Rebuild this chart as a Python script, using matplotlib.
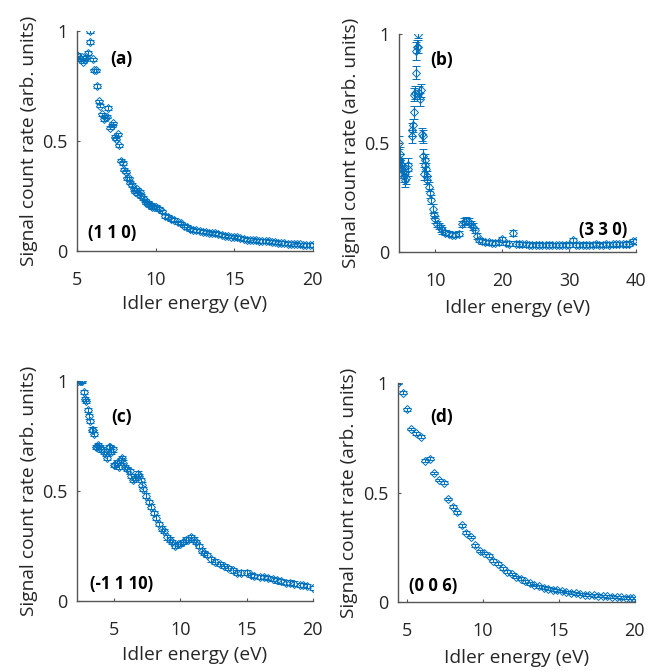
#!/usr/bin/env python3
import matplotlib
matplotlib.use("Agg")
import matplotlib.pyplot as plt

BLUE = "#0072BD"
TXT = "#262626"

# (a) (1 1 0)
x_a = [5.0, 5.1, 5.2, 5.3, 5.4, 5.5, 5.6, 5.7, 5.8, 5.85, 6.0, 6.1, 6.2, 6.3, 6.4, 6.45,
       6.6, 6.7, 6.8, 6.9, 7.0, 7.1, 7.2, 7.3, 7.4, 7.5, 7.6, 7.7, 7.8, 7.9, 8.0, 8.1,
       8.2, 8.3, 8.4, 8.5, 8.6, 8.7, 8.8, 8.9, 9.0, 9.1, 9.2, 9.3, 9.4, 9.5, 9.6, 9.7,
       9.8, 9.9, 10.0, 10.2, 10.4, 10.6, 10.8, 11.0, 11.2, 11.4, 11.6, 11.8, 12.0, 12.2,
       12.4, 12.6, 12.8, 13.0, 13.2, 13.4, 13.6, 13.8, 14.0, 14.2, 14.4, 14.6, 14.8, 15.0,
       15.2, 15.4, 15.6, 15.8, 16.0, 16.2, 16.4, 16.6, 16.8, 17.0, 17.2, 17.4, 17.6, 17.8,
       18.0, 18.2, 18.4, 18.6, 18.8, 19.0, 19.2, 19.4, 19.6, 19.8, 20.0]
y_a = [0.89, 0.88, 0.87, 0.88, 0.86, 0.87, 0.88, 0.90, 0.95, 1.0, 0.87, 0.82, 0.82, 0.75, 0.68, 0.66,
       0.62, 0.60, 0.61, 0.61, 0.65, 0.56, 0.57, 0.58, 0.52, 0.51, 0.53, 0.48, 0.41, 0.40, 0.37, 0.36,
       0.33, 0.33, 0.31, 0.30, 0.28, 0.27, 0.28, 0.26, 0.27, 0.25, 0.24, 0.23, 0.22, 0.22, 0.21, 0.21,
       0.20, 0.20, 0.20, 0.19, 0.18, 0.16, 0.155, 0.145, 0.14, 0.13, 0.125, 0.115, 0.11, 0.10,
       0.095, 0.093, 0.09, 0.088, 0.085, 0.083, 0.08, 0.082, 0.078, 0.072, 0.07, 0.066, 0.065, 0.065,
       0.062, 0.058, 0.055, 0.052, 0.05, 0.05, 0.048, 0.046, 0.045, 0.045, 0.043, 0.04, 0.04, 0.038,
       0.036, 0.035, 0.033, 0.032, 0.031, 0.03, 0.03, 0.028, 0.028, 0.027, 0.027]
err_a = 0.008

# (b) (3 3 0)
x_b = [4.6, 4.7, 4.8, 4.9, 5.0, 5.1, 5.2, 5.3, 5.5, 5.7, 5.9, 6.0, 6.5, 6.6, 6.7, 6.8,
       6.9, 7.0, 7.1, 7.2, 7.3, 7.4, 7.5, 7.6, 7.8, 7.9, 8.0, 8.1, 8.2, 8.3, 8.4, 8.5,
       8.6, 8.7, 8.8, 9.0, 9.2, 9.4, 9.6, 9.8, 10.0, 10.2, 10.5, 10.8, 11.0, 11.5, 12.0, 12.5,
       13.0, 13.5, 14.0, 14.3, 14.6, 15.0, 15.3, 15.6, 16.0, 16.3, 16.6, 17.0, 17.5, 18.0,
       18.5, 19.0, 19.5, 20.0, 20.5, 21.0, 21.6, 22.0, 22.5, 23.0, 23.5, 24.0, 24.5, 25.0,
       25.5, 26.0, 26.5, 27.0, 27.5, 28.0, 28.5, 29.0, 29.5, 30.0, 30.6, 31.0, 31.5, 32.0,
       32.5, 33.0, 33.5, 34.0, 34.5, 35.0, 35.5, 36.0, 36.5, 37.0, 37.5, 38.0, 38.5, 39.0,
       39.5, 40.0]
y_b = [0.50, 0.45, 0.42, 0.40, 0.38, 0.40, 0.37, 0.35, 0.33, 0.34, 0.38, 0.40, 0.53, 0.56, 0.58, 0.64,
       0.72, 0.73, 0.82, 0.92, 0.94, 1.0, 0.94, 0.73, 0.70, 0.74, 0.54, 0.53, 0.44, 0.36, 0.40, 0.42,
       0.38, 0.35, 0.33, 0.30, 0.27, 0.24, 0.20, 0.17, 0.15, 0.13, 0.12, 0.11, 0.10, 0.09, 0.085, 0.08,
       0.08, 0.085, 0.13, 0.14, 0.145, 0.14, 0.13, 0.117, 0.10, 0.075, 0.055, 0.05, 0.048, 0.045,
       0.044, 0.043, 0.045, 0.06, 0.042, 0.04, 0.088, 0.04, 0.038, 0.036, 0.036, 0.035, 0.035, 0.034,
       0.035, 0.034, 0.033, 0.035, 0.034, 0.033, 0.034, 0.033, 0.035, 0.034, 0.055, 0.033, 0.034, 0.035,
       0.033, 0.034, 0.035, 0.036, 0.034, 0.035, 0.036, 0.035, 0.037, 0.036, 0.038, 0.037, 0.036, 0.04,
       0.05, 0.05]
err_b = [0.03, 0.03, 0.03, 0.03, 0.03, 0.03, 0.03, 0.03, 0.03, 0.03, 0.03, 0.03, 0.03, 0.03, 0.03, 0.03,
         0.03, 0.03, 0.03, 0.04, 0.03, 0.02, 0.03, 0.03, 0.03, 0.03, 0.03, 0.03, 0.03, 0.03, 0.03, 0.03,
         0.03, 0.02, 0.02, 0.02, 0.02, 0.02, 0.02, 0.015, 0.015, 0.015, 0.015, 0.015, 0.015, 0.012, 0.012, 0.012,
         0.012, 0.012, 0.015, 0.015, 0.015, 0.015, 0.015, 0.015, 0.012, 0.012, 0.01, 0.01, 0.01, 0.01,
         0.01, 0.01, 0.01, 0.012, 0.01, 0.01, 0.015, 0.01, 0.01, 0.01, 0.01, 0.01, 0.01, 0.01,
         0.01, 0.01, 0.01, 0.01, 0.01, 0.01, 0.01, 0.01, 0.01, 0.01, 0.01, 0.01, 0.01, 0.01,
         0.01, 0.01, 0.01, 0.01, 0.01, 0.01, 0.01, 0.01, 0.01, 0.01, 0.01, 0.01, 0.01, 0.01,
         0.012, 0.012]

# (c) (-1 1 10)
x_c = [2.3, 2.4, 2.5, 2.6, 2.7, 2.8, 2.9, 3.0, 3.1, 3.2, 3.3, 3.4, 3.5, 3.6, 3.7, 3.8,
       3.9, 4.0, 4.2, 4.4, 4.5, 4.6, 4.7, 4.8, 4.9, 5.0, 5.1, 5.2, 5.4, 5.5, 5.6, 5.7,
       5.8, 6.0, 6.2, 6.3, 6.4, 6.6, 6.8, 6.9, 7.0, 7.1, 7.2, 7.4, 7.6, 7.8, 8.0, 8.2,
       8.4, 8.6, 8.8, 9.0, 9.2, 9.4, 9.6, 9.8, 10.0, 10.2, 10.4, 10.6, 10.8, 11.0, 11.2, 11.4,
       11.6, 11.8, 12.0, 12.3, 12.6, 13.0, 13.3, 13.6, 14.0, 14.3, 14.6, 15.0, 15.3, 15.6,
       16.0, 16.3, 16.6, 17.0, 17.3, 17.6, 18.0, 18.3, 18.6, 19.0, 19.3, 19.6, 20.0]
y_c = [1.0, 1.0, 1.0, 1.0, 0.95, 0.92, 0.91, 0.87, 0.84, 0.82, 0.78, 0.78, 0.76, 0.70, 0.70, 0.71,
       0.70, 0.69, 0.68, 0.67, 0.65, 0.70, 0.70, 0.68, 0.69, 0.62, 0.62, 0.63, 0.61, 0.64, 0.65, 0.63,
       0.61, 0.60, 0.59, 0.57, 0.55, 0.56, 0.58, 0.57, 0.55, 0.53, 0.51, 0.48, 0.45, 0.43, 0.40, 0.38,
       0.35, 0.33, 0.32, 0.29, 0.28, 0.27, 0.25, 0.26, 0.26, 0.27, 0.28, 0.28, 0.29, 0.28, 0.27, 0.25,
       0.23, 0.22, 0.21, 0.19, 0.18, 0.17, 0.16, 0.15, 0.14, 0.13, 0.13, 0.13, 0.12, 0.115,
       0.11, 0.11, 0.105, 0.10, 0.095, 0.09, 0.085, 0.085, 0.08, 0.075, 0.075, 0.07, 0.06]
err_c = 0.01

# (d) (0 0 6)
x_d = [4.45, 4.74, 5.0, 5.29, 5.62, 5.9, 6.2, 6.5, 6.78, 7.09, 7.42, 7.73, 8.03, 8.33,
       8.63, 8.91, 9.22, 9.51, 9.81, 10.1, 10.4, 10.7, 11.0, 11.3, 11.6, 11.9, 12.2, 12.5,
       12.8, 13.1, 13.4, 13.7, 14.0, 14.3, 14.6, 14.9, 15.2, 15.5, 15.8, 16.1, 16.4, 16.7,
       17.0, 17.3, 17.6, 17.9, 18.2, 18.5, 18.8, 19.1, 19.4, 19.7, 19.85]
y_d = [1.0, 0.956, 0.88, 0.79, 0.77, 0.755, 0.645, 0.655, 0.59, 0.557, 0.545, 0.47, 0.435, 0.41,
       0.35, 0.317, 0.296, 0.258, 0.232, 0.223, 0.211, 0.188, 0.175, 0.153, 0.138, 0.127, 0.114, 0.106,
       0.094, 0.085, 0.077, 0.071, 0.065, 0.061, 0.056, 0.053, 0.05, 0.046, 0.042, 0.039, 0.036, 0.033,
       0.032, 0.030, 0.029, 0.027, 0.026, 0.024, 0.023, 0.021, 0.020, 0.018, 0.017]
err_d = 0.006

panels = [
    # x, y, err, xlim, xticks, tag, tag pos, hkl, hkl pos, axes rect, xlabel pad
    (x_a, y_a, err_a, (5, 20), [5, 10, 15, 20], "(a)", (0.19, 0.87), "(1 1 0)", (0.15, 0.08),
     [0.116, 0.626, 0.355, 0.328], 4.5),
    (x_b, y_b, err_b, (4.6, 40), [10, 20, 30, 40], "(b)", (0.18, 0.877), "(3 3 0)", (0.86, 0.10),
     [0.601, 0.624, 0.357, 0.326], 6),
    (x_c, y_c, err_c, (2.2, 20), [5, 10, 15, 20], "(c)", (0.19, 0.836), "(-1 1 10)", (0.19, 0.077),
     [0.116, 0.104, 0.355, 0.328], 4.5),
    (x_d, y_d, err_d, (4.4, 20), [5, 10, 15, 20], "(d)", (0.185, 0.845), "(0 0 6)", (0.15, 0.073),
     [0.599, 0.103, 0.357, 0.326], 6.5),
]

plt.rcParams["font.family"] = ["Open Sans", "DejaVu Sans"]

fig = plt.figure(figsize=(6.64, 6.71), dpi=100)

for x, y, err, xlim, xticks, tag, tag_pos, hkl, hkl_pos, rect, xpad in panels:
    ax = fig.add_axes(rect)
    ax.errorbar(x, y, yerr=err, fmt="D", color=BLUE, markersize=4.3,
                markerfacecolor="none", markeredgewidth=0.7, elinewidth=0.8,
                capsize=2.8, capthick=0.8)
    ax.set_xlim(*xlim)
    ax.set_ylim(0, 1)
    ax.set_xticks(xticks)
    ax.set_yticks([0, 0.5, 1])
    ax.set_yticklabels(["0", "0.5", "1"])
    for side in ["top", "right"]:
        ax.spines[side].set_visible(False)
    for side in ["left", "bottom"]:
        ax.spines[side].set_color("#555555")
        ax.spines[side].set_linewidth(1.0)
    ax.tick_params(direction="in", length=2, width=0.8, color="#555555",
                   labelsize=13, labelcolor=TXT)
    ax.tick_params(axis="x", pad=14.5)
    ax.tick_params(axis="y", pad=7)
    ax.set_xlabel("Idler energy (eV)", fontsize=13.8, color=TXT, labelpad=xpad)
    ax.set_ylabel("Signal count rate (arb. units)", fontsize=13.8, color=TXT, labelpad=3)
    ax.text(tag_pos[0], tag_pos[1], tag, transform=ax.transAxes, fontsize=12.5,
            fontweight="bold", color="black", ha="center", va="center")
    ax.text(hkl_pos[0], hkl_pos[1], hkl, transform=ax.transAxes, fontsize=12,
            fontweight="bold", color="black", ha="center", va="center")

fig.savefig("out.png", dpi=100)
